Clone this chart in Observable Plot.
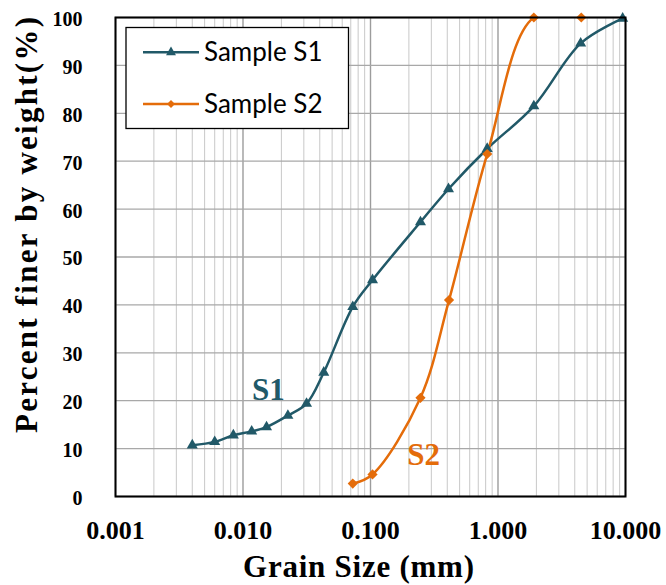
<!DOCTYPE html>
<html><head><meta charset="utf-8">
<script src="https://cdn.jsdelivr.net/npm/d3@7"></script>
<script src="https://cdn.jsdelivr.net/npm/@observablehq/plot@0.6"></script>
<style>
body{margin:0;background:#fff}
#chart{position:relative;width:666px;height:585px}
</style>
</head><body><div id="chart"></div>
<script>
// ---- data ----
const seriesNames = ["Sample S1", "Sample S2"];
const sizeS1 = [0.0040, 0.0060, 0.0084, 0.0117, 0.0153, 0.0225, 0.0315, 0.0430, 0.0726, 0.1037, 0.2466, 0.409, 0.823, 1.91, 4.45, 9.5];
const pctS1  = [10.7, 11.4, 12.8, 13.6, 14.5, 16.9, 19.4, 25.9, 39.6, 45.2, 57.3, 64.2, 72.6, 81.5, 94.6, 99.8];
const sizeS2 = [0.0726, 0.1037, 0.2466, 0.413, 0.823, 1.91, 4.50];
const pctS2  = [2.7, 4.6, 20.6, 41.0, 71.5, 100, 100];
const xMajorTicks = [0.001, 0.01, 0.1, 1, 10];
const xMinorTicks = [0.002,0.003,0.004,0.005,0.006,0.007,0.008,0.009,
                     0.02,0.03,0.04,0.05,0.06,0.07,0.08,0.09,
                     0.2,0.3,0.4,0.5,0.6,0.7,0.8,0.9,
                     2,3,4,5,6,7,8,9];
const yTicks = [0,10,20,30,40,50,60,70,80,90,100];
const annotLabels = ["S1", "S2"];
const annotX = [0.0158, 0.261];
const annotY = [22.3, 8.6];
const xTitle = "Grain Size (mm)";
const yTitle = "Percent finer by weight(%)";

const colors = {"Sample S1": "#215968", "Sample S2": "#E46C0A"};
const s1 = sizeS1.map((x, i) => ({series: seriesNames[0], x, y: pctS1[i]}));
const s2 = sizeS2.map((x, i) => ({series: seriesNames[1], x, y: pctS2[i]}));
const annots = annotLabels.map((t, i) => ({t, x: annotX[i], y: annotY[i], c: colors[seriesNames[i]]}));

const serif = "'Liberation Serif','Times New Roman',serif";
const triR = 4.1, diaR = 4.6;

const plot = Plot.plot({
  width: 666, height: 585,
  marginLeft: 115, marginRight: 41, marginTop: 17, marginBottom: 89,
  x: {type: "log", domain: [0.001, 10]},
  y: {domain: [0, 100]},
  style: {background: "#fff", overflow: "visible"},
  marks: [
    Plot.ruleX(xMinorTicks, {stroke: "#c8c8c8", strokeWidth: 1}),
    Plot.ruleX(xMajorTicks, {stroke: "#9c9c9c", strokeWidth: 1.4}),
    Plot.ruleY(yTicks, {stroke: "#a8a8a8", strokeWidth: 1.3}),
    Plot.line(s1, {x: "x", y: "y", stroke: colors["Sample S1"], strokeWidth: 2.5, curve: "catmull-rom", clip: true}),
    Plot.line(s2, {x: "x", y: "y", stroke: colors["Sample S2"], strokeWidth: 2.5, curve: "catmull-rom", clip: true}),
    Plot.dot(s1, {x: "x", y: "y", symbol: "triangle", r: triR, fill: colors["Sample S1"]}),
    Plot.dot(s2, {x: "x", y: "y", symbol: "diamond2", r: diaR, fill: colors["Sample S2"]}),
    Plot.text(annots, {x: "x", y: "y", text: "t", fill: "c", fontSize: 31, fontWeight: "bold", fontFamily: serif}),
    Plot.frame({stroke: "#000", strokeWidth: 2}),
    Plot.axisX({ticks: xMajorTicks, tickFormat: d3.format(".3f"), tickSize: 0, tickPadding: 24, fontSize: 26, fontWeight: "bold", fontFamily: serif, fill: "#000", label: null}),
    Plot.axisY({ticks: yTicks, tickSize: 0, tickPadding: 33, dy: 2, fontSize: 20, fontWeight: "bold", fontFamily: serif, fill: "#000", label: null}),
    Plot.text([xTitle], {text: d => d, frameAnchor: "bottom", lineAnchor: "middle", textAnchor: "middle", dx: -12, dy: 71, fontSize: 31, fontWeight: "bold", fontFamily: serif, fill: "#000", className: "xtitle"}),
    Plot.text([yTitle], {text: d => d, frameAnchor: "left", lineAnchor: "middle", textAnchor: "middle", rotate: -90, dx: -88, dy: -32, fontSize: 31, fontWeight: "bold", fontFamily: serif, fill: "#000", className: "ytitle"})
  ]
});

document.getElementById("chart").appendChild(plot);
const svg = d3.select(plot);
svg.select(".xtitle text").attr("textLength", 231).attr("lengthAdjust", "spacing");
svg.select(".ytitle text").attr("textLength", 416).attr("lengthAdjust", "spacing");

// legend inside the plot area (top-left)
const lg = svg.append("g").attr("class", "legend");
lg.append("rect").attr("x", 126).attr("y", 27.5).attr("width", 222.5).attr("height", 101)
  .attr("fill", "#fff").attr("stroke", "#000").attr("stroke-width", 1.3);
const syms = [d3.symbol(d3.symbolTriangle, Math.PI * triR * triR * 0.8)(), d3.symbol(d3.symbolDiamond2, Math.PI * diaR * diaR * 0.6)()];
seriesNames.forEach((name, i) => {
  const cy = i === 0 ? 52.3 : 104;
  lg.append("line").attr("x1", 143).attr("x2", 199).attr("y1", cy).attr("y2", cy)
    .attr("stroke", colors[name]).attr("stroke-width", 2.5);
  lg.append("path").attr("d", syms[i]).attr("transform", `translate(171,${cy})`).attr("fill", colors[name]);
  lg.append("text").attr("x", 204).attr("y", cy + 8.5).attr("text-anchor", "start").text(name)
    .attr("font-family", "Lato, 'Open Sans', sans-serif").attr("font-size", 26).attr("fill", "#000");
});
</script>
</body></html>
